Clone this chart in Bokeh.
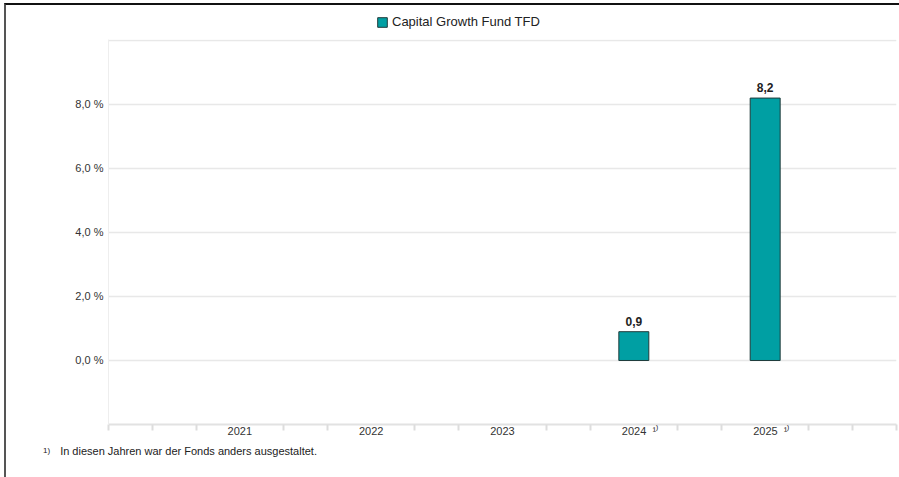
from bokeh.plotting import figure
from bokeh.models import (ColumnDataSource, FixedTicker, Range1d, Legend, LegendItem, Div)
from bokeh.layouts import column
from bokeh.core.properties import value
from bokeh.embed import file_html
from bokeh.resources import INLINE

# ---- data ----
years = ["2021", "2022", "2023", "2024", "2025"]
returns = [None, None, None, 0.9, 8.2]
value_labels = ["", "", "", "0,9", "8,2"]
footnote_years = ["2024", "2025"]
y_ticks = [0, 2, 4, 6, 8]
y_tick_labels = ["0,0 %", "2,0 %", "4,0 %", "6,0 %", "8,0 %"]
series_name = "Capital Growth Fund TFD"
footnote_text = "In diesen Jahren war der Fonds anders ausgestaltet."
footnote_mark = "1)"

FONT = "Liberation Sans"
TEAL = "#009FA3"
EDGE = "#1f3b3b"
NB = "\u00a0"

X_END = 18
pos = [3 * (i + 1) for i in range(len(years))]
bx = [p_ for p_, v in zip(pos, returns) if v is not None]
bt = [v for v in returns if v is not None]
bl = [l for l, v in zip(value_labels, returns) if v is not None]

W = 893

# ---- legend strip ----
LH = 34
top = figure(width=W, height=LH, output_backend="svg", toolbar_location=None,
             x_range=Range1d(0, 1), y_range=Range1d(0, 1),
             x_axis_location=None, y_axis_location=None,
             min_border=0, min_border_left=0, min_border_right=0, min_border_top=0,
             min_border_bottom=0)
top.grid.visible = False
top.outline_line_color = None
top.background_fill_color = "white"
top.border_fill_color = "white"
lr = top.vbar(x=bx[:1], top=bt[:1], width=1, fill_color=TEAL, line_color=EDGE,
              line_width=1, visible=False)
legend = Legend(items=[LegendItem(label=series_name, renderers=[lr])],
                location=(268, 10), orientation="horizontal",
                padding=0, margin=0, spacing=0, glyph_width=12, glyph_height=12,
                label_standoff=4, label_text_font=FONT, label_text_font_size="13px",
                label_text_color="#222222", border_line_color=None,
                background_fill_alpha=0, label_height=12)
top.add_layout(legend, "center")

# ---- main chart ----
p = figure(width=W, height=403, output_backend="svg", toolbar_location=None,
           x_range=Range1d(0, X_END), y_range=Range1d(-2, 10.03),
           min_border_left=102, min_border_top=0, min_border_right=3, min_border_bottom=18)
p.outline_line_color = None
p.background_fill_color = "white"
p.border_fill_color = "white"

src = ColumnDataSource(dict(x=bx, top=bt, lab=bl))
p.vbar(x="x", top="top", bottom=0, width=0.685, source=src,
       fill_color=TEAL, line_color=EDGE, line_width=1)
p.text(x="x", y="top", text="lab", source=src, text_align="center", text_baseline="bottom",
       y_offset=-6, text_font=value(FONT), text_font_size="12px", text_font_style="bold",
       text_color="#222222")

p.yaxis.ticker = FixedTicker(ticks=y_ticks)
p.yaxis.major_label_overrides = {t: l for t, l in zip(y_ticks, y_tick_labels)}
p.yaxis.major_tick_line_color = None
p.yaxis.major_tick_out = 0
p.yaxis.major_tick_in = 0
p.yaxis.minor_tick_line_color = None
p.yaxis.axis_line_color = "#eeeeee"
p.yaxis.major_label_text_font = FONT
p.yaxis.major_label_text_font_size = "11px"
p.yaxis.major_label_text_color = "#333333"
p.yaxis.major_label_standoff = 5


def xlabel(yr):
    if yr in footnote_years:
        return NB * 4 + yr + NB * 2 + "\u00b9\u207e"
    return yr


minor = [i for i in range(0, X_END + 1) if i not in pos]
p.xaxis.ticker = FixedTicker(ticks=pos, minor_ticks=minor)
p.xaxis.major_label_overrides = {t: xlabel(l) for t, l in zip(pos, years)}
p.xaxis.major_tick_line_color = None
p.xaxis.major_tick_out = 0
p.xaxis.major_tick_in = 0
p.xaxis.minor_tick_line_color = "#dddddd"
p.xaxis.minor_tick_line_width = 2
p.xaxis.minor_tick_out = 6
p.xaxis.minor_tick_in = 0
p.xaxis.axis_line_color = "#e2e2e2"
p.xaxis.axis_line_width = 2
p.xaxis.major_label_standoff = -6
p.xaxis.major_label_text_font = FONT
p.xaxis.major_label_text_font_size = "11px"
p.xaxis.major_label_text_color = "#333333"

p.xgrid.grid_line_color = None
p.ygrid.ticker = FixedTicker(ticks=[0, 2, 4, 6, 8, 10])
p.ygrid.grid_line_color = "#e8e8e8"
p.ygrid.grid_line_width = 1.5

# ---- footnote ----
foot = Div(
    text=(f'<span style="font-size:8px;position:relative;top:-2px">{footnote_mark}</span>'
          f'<span style="font-size:11px;margin-left:10px">{footnote_text}</span>'),
    width=W, height=35,
    styles={"font-family": f"'{FONT}'", "color": "#222222", "padding-left": "37px",
            "line-height": "18px", "margin": "0", "background": "white"})

layout = column(top, p, foot, spacing=0)
layout.styles = {"margin-left": "4px", "margin-top": "3px",
                 "border-top": "2px solid #111111", "border-left": "2px solid #555555"}

open("out.html", "w").write(file_html(layout, INLINE))
